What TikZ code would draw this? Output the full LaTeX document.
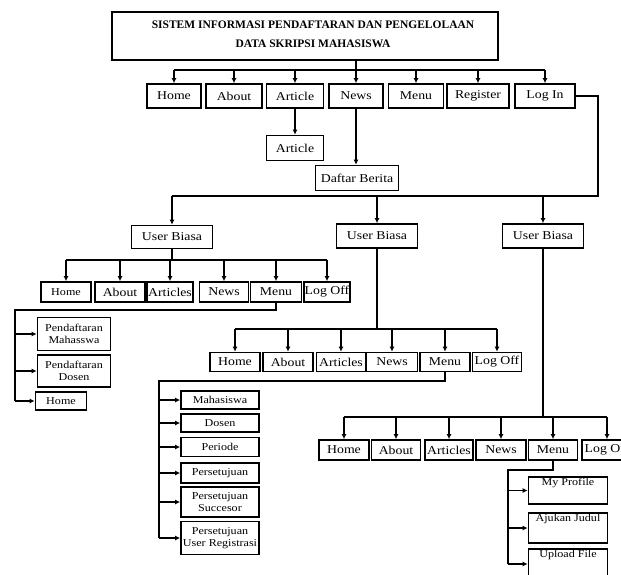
\documentclass[tikz,border=0pt]{standalone}
\usepackage{fontspec}
\setmainfont{Liberation Serif}[FakeStretch=1.15]
\newfontfamily\titlefont{Liberation Serif}
\usetikzlibrary{arrows.meta}
\begin{document}
\begin{tikzpicture}[x=1pt,y=-1pt,
  bx/.style={draw, line width=1.7pt, inner sep=0pt, font=\fontsize{12}{13}\selectfont},
  sb/.style={bx, font=\fontsize{10.5}{11.5}\selectfont, align=center},
  tl/.style={font=\fontsize{10.5}{11.5}\selectfont, anchor=north, inner sep=1.5pt},
  ln/.style={line width=1.6pt},
  arr/.style={line width=1.6pt, -{Latex[length=5pt,width=5pt]}}]
\path[use as bounding box] (0,0) rectangle (621,574);
\clip (0,0) rectangle (621,574);

% title
\node[bx, line width=1.9pt, minimum width=386, minimum height=48] (title) at (305,36) {};
\node[font=\titlefont\bfseries\fontsize{11.5}{13}\selectfont, align=center] (titletxt) at (313,34)
  {SISTEM INFORMASI PENDAFTARAN DAN PENGELOLAAN\\[6pt]DATA SKRIPSI MAHASISWA};

% top row
\node[bx, minimum width=54, minimum height=24] (home) at (174,96) {Home};
\node[bx, minimum width=56, minimum height=24] (about) at (234,96) {About};
\node[bx, minimum width=57, minimum height=24] (article) at (295,96) {Article};
\node[bx, minimum width=54, minimum height=24] (news) at (356,96) {News};
\node[bx, minimum width=55, minimum height=24] (menu) at (416,96) {Menu};
\node[bx, minimum width=62, minimum height=24] (register) at (478,96) {Register};
\node[bx, minimum width=60, minimum height=24] (login) at (545,96) {Log In};

\node[bx, minimum width=57, minimum height=25] (article2) at (295,148) {Article};
\node[bx, minimum width=83, minimum height=25] (daftar) at (357,178) {Daftar Berita};

% user biasa
\node[bx, minimum width=81, minimum height=23] (ub1) at (172,237) {User Biasa};
\node[bx, minimum width=81, minimum height=24] (ub2) at (377,236) {User Biasa};
\node[bx, minimum width=81, minimum height=24] (ub3) at (543,236) {User Biasa};

% left group
\node[bx, minimum width=50, minimum height=20, font=\fontsize{10.5}{11.5}\selectfont] (lhome) at (66,292) {Home};
\node[bx, minimum width=50, minimum height=20] (labout) at (120,292) {About};
\node[bx, minimum width=46, minimum height=20] (larticles) at (170,292) {Articles};
\node[bx, minimum width=49, minimum height=20] (lnews) at (224,292) {News};
\node[bx, minimum width=51, minimum height=20] (lmenu) at (276,292) {Menu};
\node[bx, minimum width=46, minimum height=20] (llogoff) at (327,292) {Log Off};

\node[sb, minimum width=73, minimum height=33] (pm) at (74,334) {Pendaftaran\\Mahasswa};
\node[sb, minimum width=73, minimum height=32] (pd) at (74,371) {Pendaftaran\\Dosen};
\node[sb, minimum width=51, minimum height=18] (lh2) at (61,401) {Home};

% middle group
\node[bx, minimum width=50, minimum height=19] (mhome) at (235,362) {Home};
\node[bx, minimum width=50, minimum height=19] (mabout) at (288,362) {About};
\node[bx, minimum width=49, minimum height=19] (marticles) at (341,362) {Articles};
\node[bx, minimum width=51, minimum height=19] (mnews) at (392,362) {News};
\node[bx, minimum width=50, minimum height=19] (mmenu) at (445,362) {Menu};
\node[bx, minimum width=49, minimum height=19] (mlogoff) at (497,362) {Log Off};

\node[sb, minimum width=78, minimum height=18] (s1) at (220,400) {Mahasiswa};
\node[sb, minimum width=78, minimum height=18] (s2) at (220,423) {Dosen};
\node[sb, minimum width=78, minimum height=19] (s3) at (220,447) {Periode};
\node[sb, minimum width=78, minimum height=20] (s4) at (220,473) {Persetujuan};
\node[sb, minimum width=78, minimum height=30] (s5) at (220,502) {Persetujuan\\Succesor};
\node[sb, minimum width=78, minimum height=33] (s6) at (220,538) {Persetujuan\\User Registrasi};

% right group
\node[bx, minimum width=50, minimum height=20] (rhome) at (344,450) {Home};
\node[bx, minimum width=49, minimum height=20] (rabout) at (396,450) {About};
\node[bx, minimum width=48, minimum height=20] (rarticles) at (449,450) {Articles};
\node[bx, minimum width=50, minimum height=20] (rnews) at (501,450) {News};
\node[bx, minimum width=49, minimum height=20] (rmenu) at (553,450) {Menu};
\node[bx, minimum width=50, minimum height=20] (rlogoff) at (607,450) {Log Off};

\node[bx, minimum width=79, minimum height=27, label={[tl]north:My Profile}] (myprof) at (568,490.5) {};
\node[bx, minimum width=79, minimum height=30, label={[tl]north:Ajukan Judul}] (ajukan) at (568,528) {};
\node[bx, minimum width=79, minimum height=30, label={[tl]north:Upload File}] (upload) at (568,564) {};

% connectors: top
\coordinate (b1) at (0,70);
\draw[ln] (news |- title.south) -- (news |- b1);
\draw[ln] (home |- b1) -- (login |- b1);
\foreach \n in {home,about,article,news,menu,register,login} \draw[arr] (\n |- b1) -- (\n.north);
\draw[arr] (article.south) -- (article2.north);
\draw[arr] (news.south) -- (news |- daftar.north);

% log in to user biasa
\coordinate (b2) at (598,196);
\draw[ln] (login.east) -| (b2) -- (ub1 |- b2);
\foreach \n in {ub1,ub2,ub3} \draw[arr] (\n |- b2) -- (\n.north);

% left group
\coordinate (b3) at (0,260);
\draw[ln] (ub1.south) -- (ub1 |- b3);
\draw[ln] (lhome |- b3) -- (llogoff |- b3);
\foreach \n in {lhome,labout,larticles,lnews,lmenu,llogoff} \draw[arr] (\n |- b3) -- (\n.north);
\coordinate (c1) at (15,310);
\draw[ln] (lmenu.south) |- (c1) -- (c1 |- lh2);
\foreach \n in {pm,pd,lh2} \draw[arr] (c1 |- \n) -- (\n.west);

% middle group
\coordinate (b4) at (0,329);
\draw[ln] (ub2.south) -- (ub2 |- b4);
\draw[ln] (mhome |- b4) -- (mlogoff |- b4);
\foreach \n in {mhome,mabout,marticles,mnews,mmenu,mlogoff} \draw[arr] (\n |- b4) -- (\n.north);
\coordinate (c2) at (159,381);
\draw[ln] (mmenu.south) |- (c2) -- (c2 |- s6);
\foreach \n in {s1,s2,s3,s4,s5,s6} \draw[arr] (c2 |- \n) -- (\n.west);

% right group
\coordinate (b5) at (0,417);
\draw[ln] (ub3.south) -- (ub3 |- b5);
\draw[ln] (rhome |- b5) -- (rlogoff |- b5);
\foreach \n in {rhome,rabout,rarticles,rnews,rmenu,rlogoff} \draw[arr] (\n |- b5) -- (\n.north);
\coordinate (c3) at (508,470);
\draw[ln] (rmenu.south) |- (c3) -- (c3 |- upload);
\foreach \n in {myprof,ajukan,upload} \draw[arr] (c3 |- \n) -- (\n.west);
\end{tikzpicture}
\end{document}
